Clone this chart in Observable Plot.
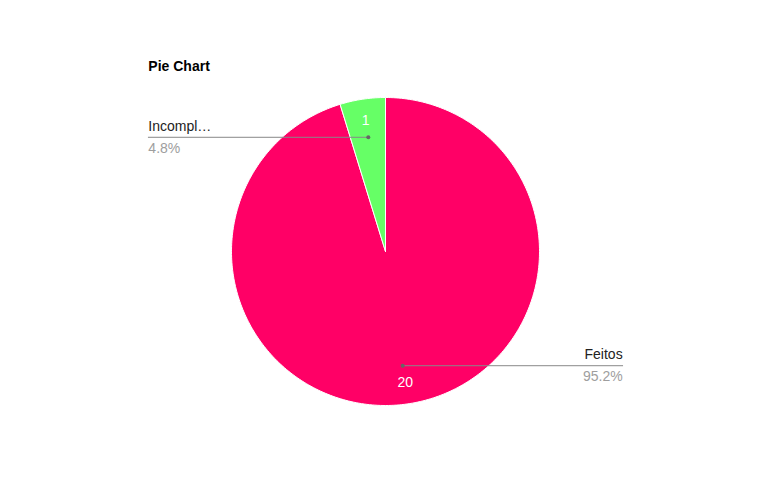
<!DOCTYPE html>
<html>
<head>
<meta charset="utf-8">
<script src="https://cdn.jsdelivr.net/npm/d3@7"></script>
<script src="https://cdn.jsdelivr.net/npm/@observablehq/plot@0.6"></script>
<style>
  html, body { margin: 0; padding: 0; background: #fff; }
  #chart svg { display: block; font-family: "Liberation Sans", Arial, sans-serif; }
</style>
</head>
<body>
<div id="chart"></div>
<script>
// ---- data ----
const title = "Pie Chart";
const categories = ["Feitos", "Incompl…"];
const values = [20, 1];
const colors = ["#ff0066", "#66ff66"];

// ---- derived ----
const total = d3.sum(values);
const arcs = d3.pie().sort(null).value(d => d)(values);

const slices = arcs.map((a, i) => {
  const pts = [{x: 0, y: 0}];
  const n = Math.max(2, Math.ceil((a.endAngle - a.startAngle) / (Math.PI / 180)));
  for (let k = 0; k <= n; k++) {
    const t = a.startAngle + (a.endAngle - a.startAngle) * k / n;
    pts.push({x: Math.sin(t), y: Math.cos(t)});
  }
  pts.push({x: 0, y: 0});
  return {pts, color: colors[i]};
});

const labelX = 1.54;
const info = arcs.map((a, i) => {
  const m = (a.startAngle + a.endAngle) / 2;
  const side = Math.sin(m) >= 0 ? 1 : -1;
  return {
    name: categories[i],
    value: values[i],
    pct: (values[i] / total * 100).toFixed(1) + "%",
    vx: 0.86 * Math.sin(m), vy: 0.86 * Math.cos(m),
    dx: 0.75 * Math.sin(m), dy: 0.75 * Math.cos(m),
    ex: side * labelX,
    side
  };
});
const right = info.filter(d => d.side > 0);
const left = info.filter(d => d.side < 0);

const leaders = info.flatMap((d, i) => [
  {x: d.dx, y: d.dy, k: i},
  {x: d.ex, y: d.dy, k: i}
]);

const labelMarks = (data, anchor) => [
  Plot.text(data, {x: "ex", y: "dy", text: "name", textAnchor: anchor, dy: -11, fill: "#222", fontSize: 14}),
  Plot.text(data, {x: "ex", y: "dy", text: "pct", textAnchor: anchor, dy: 11, fill: "#9e9e9e", fontSize: 14})
];

const chart = Plot.plot({
  width: 768,
  height: 500,
  marginLeft: 231,
  marginRight: 229,
  marginTop: 97,
  marginBottom: 95,
  x: {domain: [-1, 1], axis: null},
  y: {domain: [-1, 1], axis: null},
  marks: [
    ...slices.map(s => Plot.line(s.pts, {x: "x", y: "y", fill: s.color, stroke: "white", strokeWidth: 1, curve: "linear"})),
    Plot.text(info, {x: "vx", y: "vy", text: d => String(d.value), fill: "white", fontSize: 14}),
    Plot.line(leaders, {x: "x", y: "y", z: "k", stroke: "#888", strokeWidth: 1}),
    Plot.dot(info, {x: "dx", y: "dy", r: 2, fill: "#666"}),
    ...labelMarks(right, "end"),
    ...labelMarks(left, "start"),
    Plot.text([title], {x: -labelX, y: (251 - 66) / 154, text: d => d, textAnchor: "start", fontWeight: "bold", fontSize: 14, fill: "#000"})
  ]
});
document.getElementById("chart").appendChild(chart);
</script>
</body>
</html>
